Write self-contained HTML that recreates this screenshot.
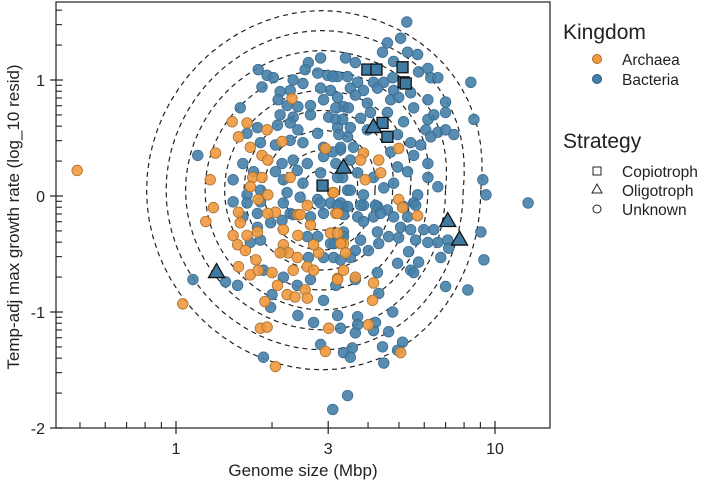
<!DOCTYPE html>
<html><head><meta charset="utf-8"><style>
html,body{margin:0;padding:0;background:#fff;}
svg{display:block;font-family:"Liberation Sans",sans-serif;}
</style></head><body>
<svg id="chart" width="709" height="485" viewBox="0 0 709 485">
<defs><clipPath id="clip"><rect x="56" y="2" width="494" height="426"/></clipPath></defs>
<g id="contours" clip-path="url(#clip)"></g>
<g id="pts" clip-path="url(#clip)"></g>
<g id="axes"></g>
<rect x="56" y="2" width="494" height="426" fill="none" stroke="#222" stroke-width="1.2"/>
<text x="303" y="476" font-size="17" text-anchor="middle" fill="#222">Genome size (Mbp)</text>
<text transform="translate(19,217) rotate(-90)" font-size="17" text-anchor="middle" fill="#222">Temp-adj max growth rate (log_10 resid)</text>
<g>
<text x="563" y="39" font-size="21" fill="#222">Kingdom</text>
<circle cx="597" cy="59" r="4.5" fill="#f0993e" stroke="#b06a20"/>
<text x="622" y="65" font-size="15.5" fill="#222">Archaea</text>
<circle cx="597" cy="79" r="4.5" fill="#4680a8" stroke="#2d5a7a"/>
<text x="622" y="85" font-size="15.5" fill="#222">Bacteria</text>
<text x="563" y="148" font-size="21" fill="#222">Strategy</text>
<rect x="593" y="167" width="8" height="8" fill="none" stroke="#222"/>
<text x="622" y="177" font-size="15.5" fill="#222">Copiotroph</text>
<polygon points="597,184 602,193 592,193" fill="none" stroke="#222"/>
<text x="622" y="196" font-size="15.5" fill="#222">Oligotroph</text>
<circle cx="597" cy="209" r="4" fill="none" stroke="#222"/>
<text x="622" y="215" font-size="15.5" fill="#222">Unknown</text>
</g>
</svg>
<script>
const archaeaGenome=[1.50,1.57,1.67,1.33,1.28,1.71,1.86,1.93,1.94,2.31,2.15,1.74,1.86,1.94,1.71,1.31,1.57,1.81,2.05,2.41,3.10,3.17,2.94,2.28,2.58,1.24,1.59,1.51,1.67,1.80,1.56,1.65,1.94,2.17,2.45,2.64,2.41,2.17,2.25,2.12,2.40,2.80,2.70,3.05,3.35,1.78,1.57,1.71,1.81,2.0,2.33,2.58,2.70,3.21,2.08,2.23,2.36,2.54,2.58,1.90,1.05,1.84,1.93,3.01,2.94,2.05,4.99,3.87,4.32,4.38,3.79,3.92,4.99,5.13,5.72,3.21,3.12,3.21,3.28,3.40,3.35,3.21,3.65,4.16,4.13,4.01,5.06,0.49];
const archaeaResid=[0.64,0.51,0.63,0.37,0.14,0.42,0.35,0.57,0.31,0.84,0.47,0.16,0.16,0.01,0.08,-0.10,-0.14,-0.03,-0.14,-0.16,0.03,-0.15,0.41,0.16,-0.08,-0.22,-0.23,-0.34,-0.34,-0.31,-0.42,-0.47,-0.15,-0.29,-0.16,-0.25,-0.34,-0.42,-0.49,-0.49,-0.53,-0.49,-0.42,-0.32,-0.41,-0.55,-0.61,-0.68,-0.64,-0.66,-0.64,-0.61,-0.64,-0.71,-0.77,-0.85,-0.87,-0.81,-0.88,-0.91,-0.93,-1.14,-1.13,-1.14,-1.34,-1.47,0.41,0.37,0.31,0.20,0.31,0.14,-0.03,-0.10,-0.17,-0.15,0.03,-0.32,-0.41,-0.49,-0.64,-0.72,-0.70,-0.75,-0.90,-1.11,-1.35,0.22];
const bacteriaGenome=[1.81,1.93,2.02,1.86,2.60,2.54,2.84,3.40,2.78,2.99,3.21,3.45,2.33,2.50,2.12,2.28,2.84,3.05,2.09,2.23,2.41,2.64,2.90,3.21,3.35,1.59,2.12,2.33,2.64,3.01,3.17,1.80,1.67,2.08,2.28,2.41,2.78,3.21,3.45,1.84,2.05,2.28,2.50,2.90,3.28,1.62,2.15,2.33,2.58,2.90,3.17,1.17,1.51,1.75,2.05,2.40,2.17,2.50,2.84,3.33,3.45,1.51,1.67,1.84,2.23,2.45,2.78,3.05,3.35,1.62,1.80,2.28,2.64,2.90,5.29,5.06,4.60,4.44,5.32,5.72,3.65,4.81,5.76,6.16,6.29,6.62,3.10,3.71,4.16,4.48,4.78,3.52,3.87,4.28,4.81,5.44,3.65,4.71,4.99,6.16,7.0,3.98,8.40,3.17,3.47,4.07,5.56,3.33,3.79,4.60,5.17,6.16,6.43,7.0,8.59,3.52,3.98,4.95,6.07,6.62,7.0,7.43,3.24,3.28,3.60,5.44,5.85,6.29,5.56,4.71,3.10,3.52,4.95,5.32,6.16,4.16,3.71,3.21,4.81,4.48,6.16,6.62,9.16,9.37,12.7,3.52,3.87,5.72,3.45,3.87,4.28,4.60,5.56,3.71,4.16,5.32,3.28,3.79,4.22,5.17,5.64,3.87,4.38,4.81,5.06,5.44,5.98,6.43,9.03,3.35,3.79,4.28,4.64,4.99,5.64,6.16,6.62,7.11,7.16,3.12,3.65,4.01,4.32,5.36,9.23,6.76,4.95,5.76,3.12,3.52,5.44,4.28,5.56,3.65,3.17,7.0,8.22,4.32,4.78,3.21,3.71,3.28,3.71,4.16,4.64,3.65,4.22,5.13,4.44,3.57,3.35,3.52,4.95,4.48,3.45,3.10,1.13,1.43,1.56,1.98,2.0,2.41,2.70,2.90,2.84,1.88,1.67,1.84,2.17,2.84,3.21,2.33,3.35,1.80,1.98,2.15,2.58,2.78,3.05,3.35,1.71,1.84,2.17,2.60,2.90,3.28,1.88,2.17,2.40,2.64];
const bacteriaResid=[1.09,1.04,1.02,0.94,1.15,1.09,1.19,1.19,1.06,1.04,1.03,1.03,1.0,0.97,0.90,0.91,0.93,0.91,0.83,0.78,0.77,0.78,0.83,0.85,0.77,0.76,0.70,0.68,0.70,0.68,0.66,0.59,0.54,0.61,0.63,0.57,0.54,0.59,0.51,0.46,0.44,0.48,0.46,0.42,0.40,0.28,0.28,0.31,0.28,0.34,0.28,0.35,0.14,0.21,0.21,0.22,0.14,0.11,0.20,0.16,0.05,-0.05,0.01,0.05,0.03,-0.01,-0.03,-0.06,-0.09,-0.18,-0.15,-0.15,-0.18,-0.15,1.50,1.36,1.32,1.24,1.24,1.22,1.15,1.16,1.07,1.10,1.02,1.02,1.03,0.98,0.98,0.98,1.02,0.93,0.91,0.93,0.91,0.89,0.87,0.83,0.85,0.83,0.81,0.80,0.98,0.76,0.76,0.72,0.76,0.66,0.67,0.72,0.64,0.66,0.70,0.72,0.66,0.59,0.57,0.53,0.57,0.55,0.57,0.53,0.53,0.42,0.42,0.46,0.44,0.51,0.35,0.38,0.38,0.31,0.25,0.21,0.28,0.16,0.20,0.16,0.11,0.07,0.16,0.08,0.14,0.01,-0.06,0.05,0.01,0.01,-0.09,-0.08,-0.09,-0.12,-0.06,-0.18,-0.18,-0.18,-0.06,-0.08,-0.08,-0.09,-0.08,-0.22,-0.15,-0.18,-0.27,-0.29,-0.29,-0.29,-0.31,-0.31,-0.38,-0.31,-0.35,-0.36,-0.38,-0.40,-0.40,-0.38,-0.45,-0.41,-0.47,-0.47,-0.41,-0.48,-0.55,-0.53,-0.58,-0.57,-0.53,-0.53,-0.64,-0.66,-0.66,-0.72,-0.77,-0.78,-0.81,-0.84,-1.0,-1.03,-1.04,-1.14,-1.11,-1.16,-1.17,-1.18,-1.09,-1.26,-1.30,-1.31,-1.35,-1.39,-1.33,-1.44,-1.72,-1.84,-0.72,-0.74,-0.77,-0.96,-0.85,-1.03,-1.09,-0.90,-1.28,-1.39,-0.06,-0.05,-0.06,-0.06,-0.08,-0.16,-0.16,-0.27,-0.23,-0.21,-0.35,-0.35,-0.41,-0.35,-0.40,-0.38,-0.47,-0.53,-0.53,-0.55,-0.64,-0.70,-0.77,-0.72];
const copioGenome=[2.88,3.98,4.25,5.13,5.17,5.25,4.44,4.60];
const copioResid=[0.09,1.09,1.09,1.11,0.98,0.97,0.63,0.51];
const oligoGenome=[4.16,3.35,7.11,7.74,1.34];
const oligoResid=[0.59,0.24,-0.22,-0.38,-0.66];
const contourLevels=[1,2,3,4,5,6,7,8,9];
const contourCenterGenome=2.87, contourCenterResid=0.05;
const xMajorTicks=[1,3,10];
const xMinorTicks=[0.5,0.6,0.7,0.8,0.9,2,4,5,6,7,8,9];
const yMajorTicks=[-2,-1,0,1];
const yTickLabels=["-2","-1","0","1"];

const NS="http://www.w3.org/2000/svg";
const X=g=>176+319*Math.log10(g);
const Y=r=>196-116*r;
function mk(tag,attrs,parent){const e=document.createElementNS(NS,tag);for(const k in attrs)e.setAttribute(k,attrs[k]);parent.appendChild(e);return e;}

// contours
const cg=document.getElementById('contours');
contourLevels.forEach(k=>{
  const cx=X(contourCenterGenome), cy=Y(contourCenterResid);
  const rx=(X(contourCenterGenome*Math.pow(10,0.06*k))-cx)*0.97;
  const ry=cy-Y(contourCenterResid+0.172*k);
  let d='';
  for(let i=0;i<=72;i++){const t=i/72*2*Math.PI;
    const sx=Math.cos(t), sy=Math.sin(t);
    const stretch=1+0.12*Math.max(0,sx)*Math.max(0,-sy)+0.05*(-sx);
    d+=(i?'L':'M')+(cx+rx*sx*stretch).toFixed(1)+','+(cy+ry*sy).toFixed(1);}
  const p=mk('path',{d:d,fill:'none',stroke:'#222','stroke-width':1.2,'stroke-dasharray':'5,4'},cg);
  
  
});

// points
const pg=document.getElementById('pts');
bacteriaGenome.forEach((g,i)=>{
  const c=mk('circle',{cx:X(g),cy:Y(bacteriaResid[i]),r:5.3,fill:'#4680a8','fill-opacity':0.9,stroke:'#3a6d92','stroke-width':0.8},pg);
  
  
});
archaeaGenome.forEach((g,i)=>{
  const c=mk('circle',{cx:X(g),cy:Y(archaeaResid[i]),r:5.3,fill:'#f0993e','fill-opacity':0.9,stroke:'#a8702e','stroke-width':0.8},pg);
  
  
});
copioGenome.forEach((g,i)=>{
  const x=X(g),y=Y(copioResid[i]);
  const s=mk('rect',{x:x-5.5,y:y-5.5,width:11,height:11,fill:'#3f7aa3',stroke:'#111','stroke-width':1.3},pg);
  
  
});
oligoGenome.forEach((g,i)=>{
  const x=X(g),y=Y(oligoResid[i]);
  const s=mk('polygon',{points:`${x},${y-9} ${x+8},${y+5} ${x-8},${y+5}`,fill:'#3f7aa3',stroke:'#111','stroke-width':1.3},pg);
  
  
});

// axes
const ag=document.getElementById('axes');
xMajorTicks.forEach(v=>{
  const x=X(v);
  const l=mk('line',{x1:x,x2:x,y1:421,y2:434,stroke:'#222','stroke-width':1.2},ag);
  
  
  const t=mk('text',{x:x,y:454,'font-size':16,'text-anchor':'middle',fill:'#222'},ag);
  t.textContent=String(v);
  
  
});
xMinorTicks.forEach(v=>{
  const x=X(v);
  const l=mk('line',{x1:x,x2:x,y1:422,y2:428,stroke:'#222','stroke-width':1.1},ag);
  
  
});
yMajorTicks.forEach((v,i)=>{
  const y=Y(v);
  const l=mk('line',{x1:50,x2:63,y1:y,y2:y,stroke:'#222','stroke-width':1.2},ag);
  
  
  const t=mk('text',{x:45,y:y+6,'font-size':16,'text-anchor':'end',fill:'#222'},ag);
  t.textContent=yTickLabels[i];
  
  
});
yMajorTicks.forEach(v=>{
  for(let k=2;k<=9;k++){
    const val=v+Math.log10(k);
    const y=Y(val);
    if(y<4)continue;
    const l=mk('line',{x1:56,x2:62,y1:y,y2:y,stroke:'#222','stroke-width':1.1},ag);
    
    
  }
});
</script>
</body></html>
